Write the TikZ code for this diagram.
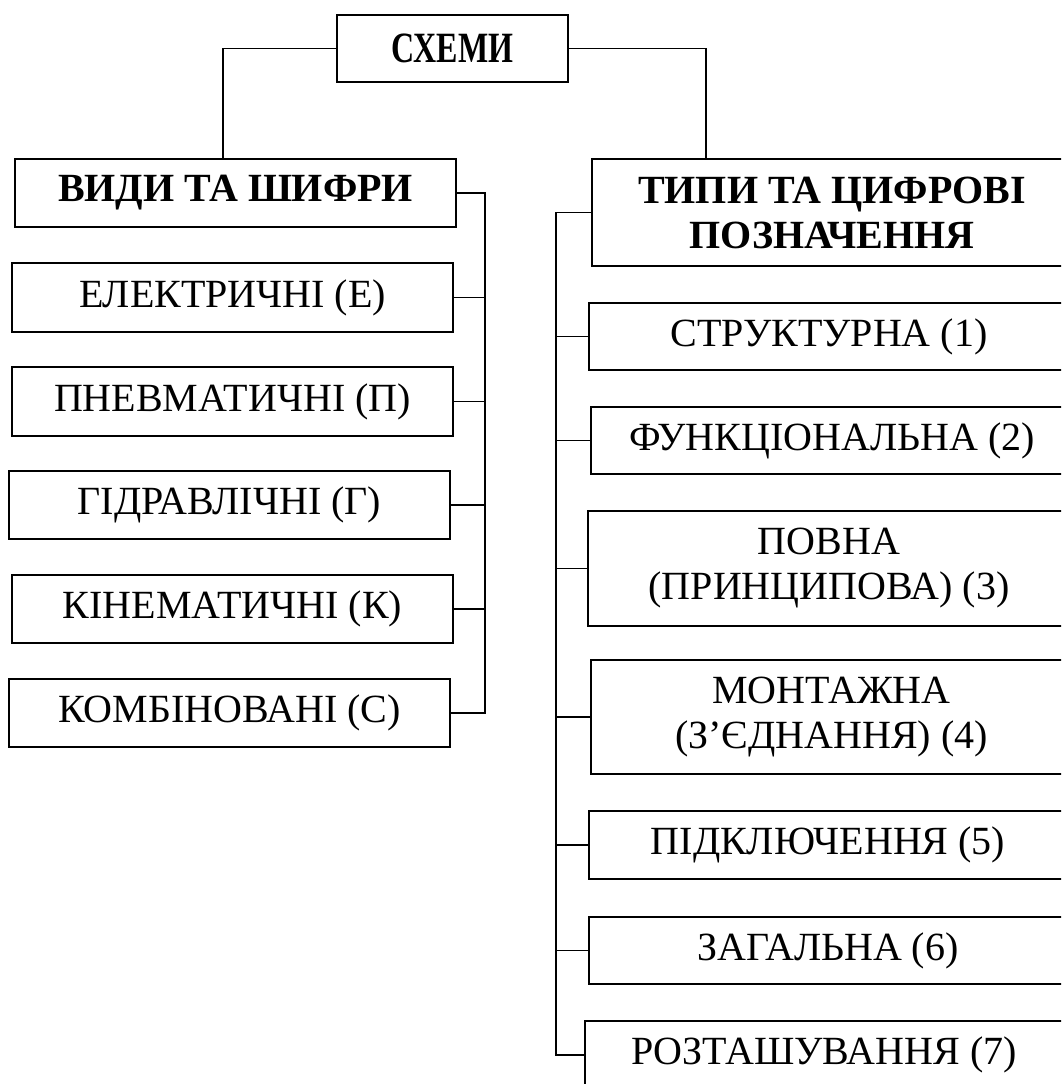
\documentclass[tikz,border=0pt]{standalone}
\usepackage{graphicx}
\usepackage{fontspec}
\setmainfont{Liberation Serif}
\begin{document}
\begin{tikzpicture}[x=1pt,y=-1pt,
  box/.style={draw, line width=1.3pt, inner sep=0pt, align=center, font=\fontsize{40}{45}\selectfont},
  hbox/.style={box, font=\fontsize{40}{45}\selectfont\bfseries},
  link/.style={line width=1.3pt}]
\useasboundingbox (0,0) rectangle (1061,1084);
\clip (0,0) rectangle (1061,1084);
% top
\node[hbox, minimum width=231, minimum height=67] (top) at (452.5,48.5) {\scalebox{0.8}[1.08]{СХЕМИ}};
% left column
\node[hbox, minimum width=441, minimum height=68] (lh) at (235.5,193) {ВИДИ ТА ШИФРИ};
\node[box, minimum width=441, minimum height=69] (l1) at (232.5,297.5) {ЕЛЕКТРИЧНІ (Е)};
\node[box, minimum width=441, minimum height=69] (l2) at (232.5,401.5) {ПНЕВМАТИЧНІ (П)};
\node[box, minimum width=441, minimum height=68] (l3) at (229.5,505) {ГІДРАВЛІЧНІ (Г)};
\node[box, minimum width=441, minimum height=68] (l4) at (232.5,609) {КІНЕМАТИЧНІ (К)};
\node[box, minimum width=441, minimum height=68] (l5) at (229.5,713) {КОМБІНОВАНІ (С)};
% right column
\node[hbox, minimum width=480, minimum height=107] (rh) at (832,212.5) {ТИПИ ТА ЦИФРОВІ\\ПОЗНАЧЕННЯ};
\node[box, minimum width=480, minimum height=67] (r1) at (829,336.5) {СТРУКТУРНА (1)};
\node[box, minimum width=482, minimum height=67] (r2) at (832,440.5) {ФУНКЦІОНАЛЬНА (2)};
\node[box, minimum width=482, minimum height=115] (r3) at (829,568.5) {ПОВНА\\(ПРИНЦИПОВА) (3)};
\node[box, minimum width=481, minimum height=114] (r4) at (831.5,717) {МОНТАЖНА\\(З’ЄДНАННЯ) (4)};
\node[box, minimum width=478, minimum height=68] (r5) at (828,845) {ПІДКЛЮЧЕННЯ (5)};
\node[box, minimum width=478, minimum height=67] (r6) at (828,950.5) {ЗАГАЛЬНА (6)};
\node[box, minimum width=500, minimum height=68] (r7) at (835,1055) {РОЗТАШУВАННЯ (7)\hspace*{22pt}};
% junctions
\coordinate (jl) at (223,48.5);
\coordinate (jr) at (706,48.5);
\coordinate (bl) at (485,0);
\coordinate (br) at (556,0);
% top connectors
\draw[link] (top.west) -- (jl) -- (jl |- lh.north);
\draw[link] (top.east) -- (jr) -- (jr |- rh.north);
% left bus
\draw[link] (lh.east) -- (bl |- lh.east) -- (bl |- l5.east) -- (l5.east);
\foreach \n in {l1,l2,l3,l4} \draw[link] (\n.east) -- (bl |- \n.east);
% right bus
\draw[link] (rh.west) -- (br |- rh.west) -- (br |- r7.west) -- (r7.west);
\foreach \n in {r1,r2,r3,r4,r5,r6} \draw[link] (\n.west) -- (br |- \n.west);
\end{tikzpicture}
\end{document}
